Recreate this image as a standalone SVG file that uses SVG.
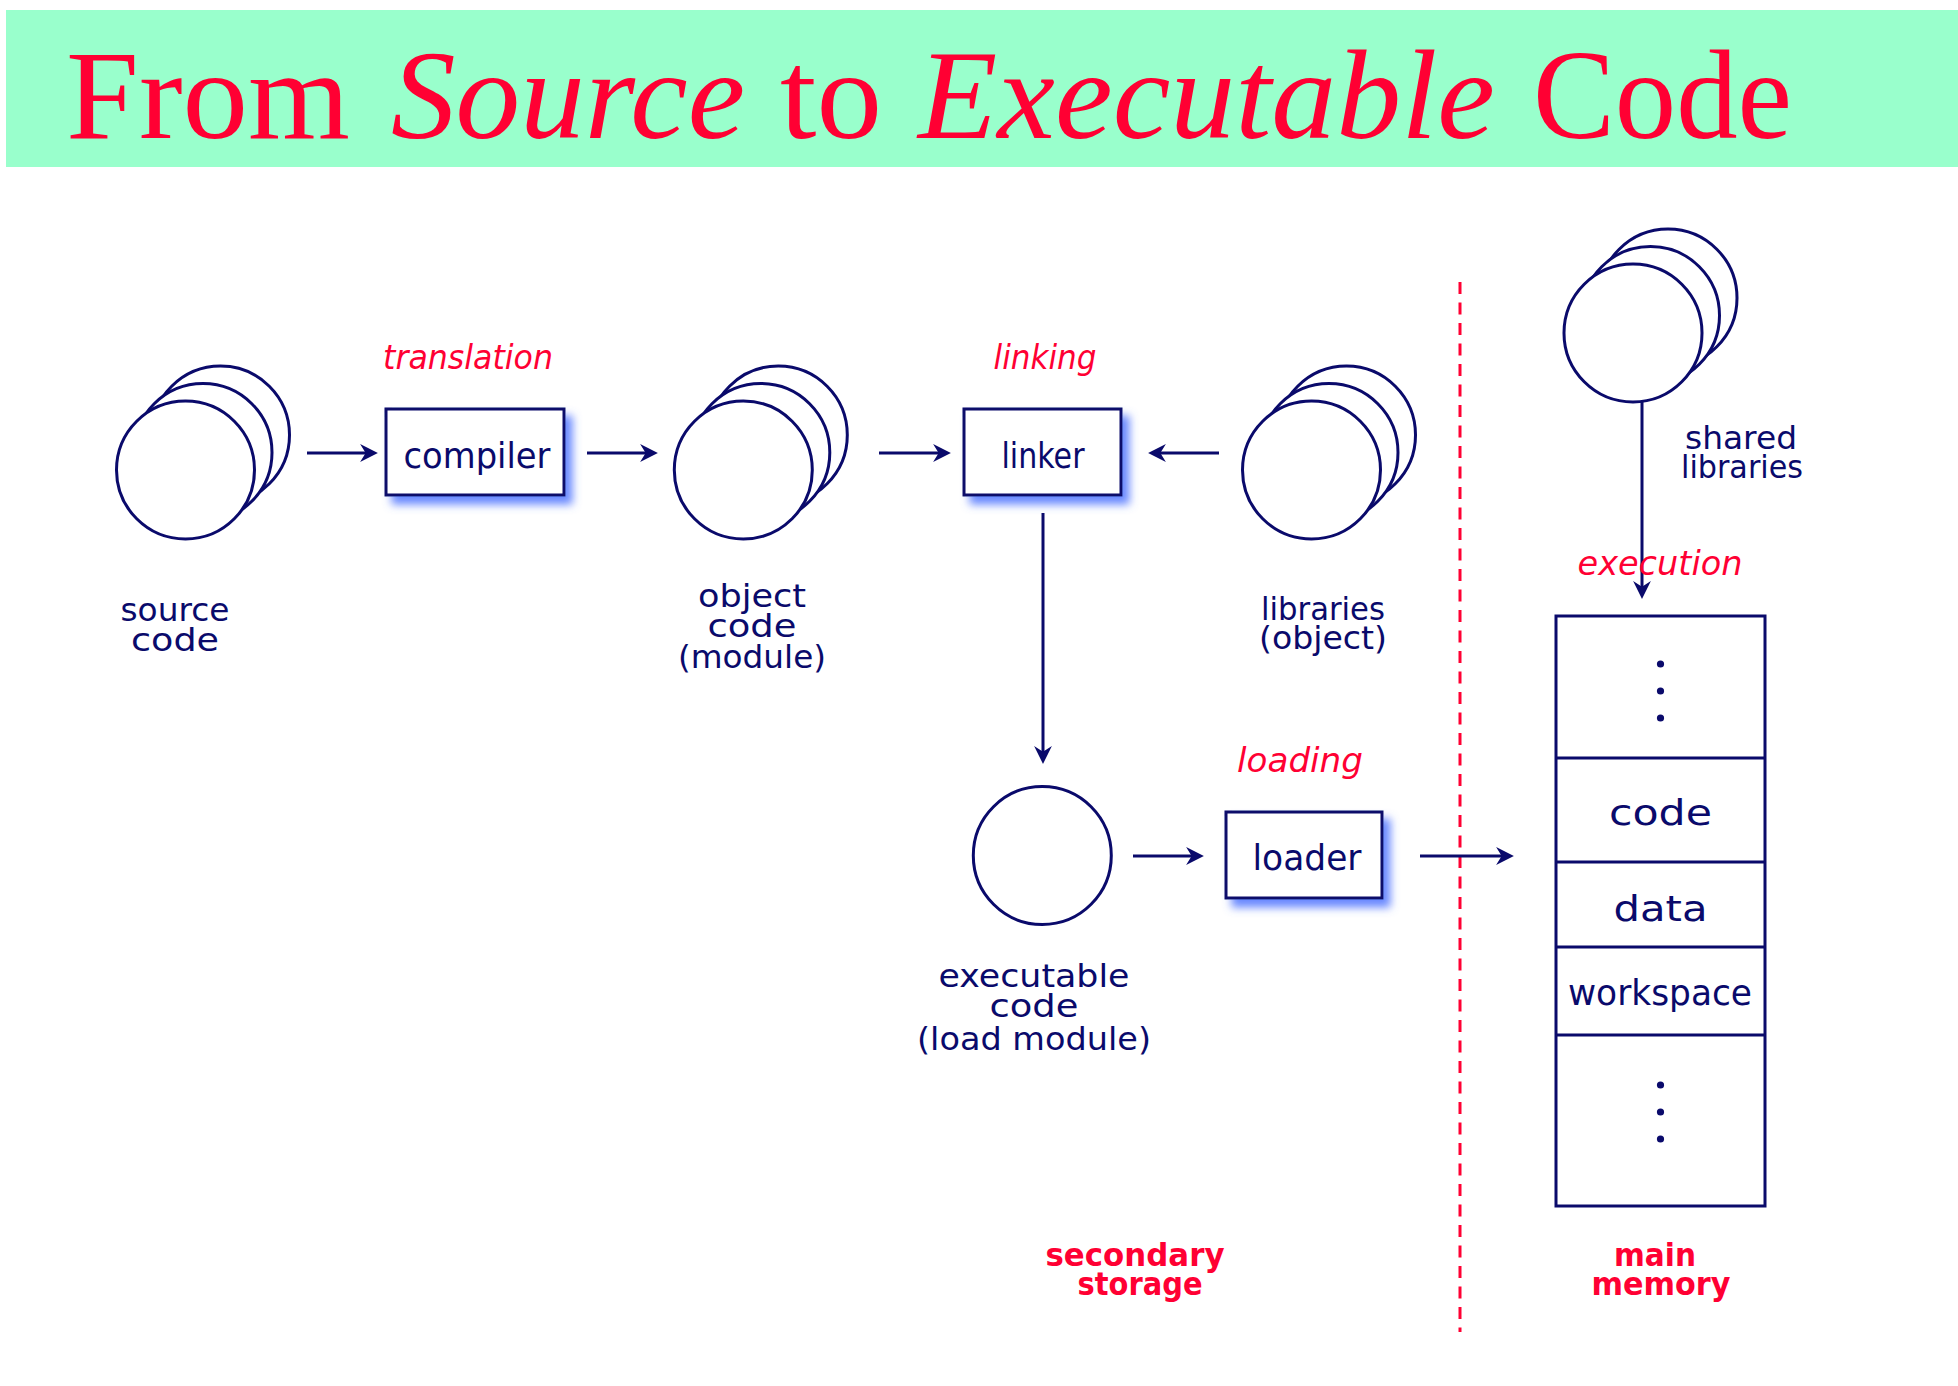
<svg xmlns="http://www.w3.org/2000/svg" xmlns:xlink="http://www.w3.org/1999/xlink" width="1958" height="1386" viewBox="0 0 1958 1386">
  <style>
    .ln { stroke: #0a0a6b; stroke-width: 3; fill: none; }
    .shape { stroke: #0a0a6b; stroke-width: 3; fill: #ffffff; }
    .lbl { font-family: "DejaVu Sans", "Liberation Sans", sans-serif; font-size: 32px; fill: #0a0a6b; text-anchor: middle; }
    .box { font-family: "DejaVu Sans", "Liberation Sans", sans-serif; font-size: 35px; fill: #0a0a6b; text-anchor: middle; }
    .act { font-family: "DejaVu Sans", "Liberation Sans", sans-serif; font-style: oblique; font-size: 33px; fill: #ff0033; text-anchor: middle; }
    .zone { font-family: "DejaVu Sans", "Liberation Sans", sans-serif; font-weight: bold; font-size: 32px; fill: #ff0033; text-anchor: middle; }
    .title { font-family: "Liberation Serif", "Times New Roman", serif; font-size: 128px; fill: #ff0033; }
    .it { font-style: italic; }
  </style>
  <defs>
    <marker id="head" markerUnits="userSpaceOnUse" markerWidth="20" markerHeight="20" viewBox="0 0 18 18" refX="9" refY="9" orient="auto">
      <path d="M1,1 L17,9 L1,17 L6,9 Z" fill="#0a0a6b"/>
    </marker>
    <filter id="glow" x="-20%" y="-20%" width="150%" height="160%">
      <feGaussianBlur in="SourceAlpha" stdDeviation="4"/>
      <feOffset dx="7" dy="8" result="b"/>
      <feFlood flood-color="#4f74ff" flood-opacity="0.85"/>
      <feComposite in2="b" operator="in" result="s"/>
      <feMerge>
        <feMergeNode in="s"/>
        <feMergeNode in="SourceGraphic"/>
      </feMerge>
    </filter>
    <g id="stack">
      <circle class="shape" cx="35" cy="-35" r="69"/>
      <circle class="shape" cx="17.5" cy="-17.5" r="69"/>
      <circle class="shape" cx="0" cy="0" r="69"/>
    </g>
  </defs>

  <!-- title band -->
  <rect x="6" y="10" width="1952" height="157" fill="#99ffcc"/>
  <text class="title" x="66" y="138" textLength="284" lengthAdjust="spacingAndGlyphs">From</text>
  <text class="title it" x="391" y="138" textLength="354" lengthAdjust="spacingAndGlyphs">Source</text>
  <text class="title" x="780" y="138" textLength="102" lengthAdjust="spacingAndGlyphs">to</text>
  <text class="title it" x="918" y="138" textLength="577" lengthAdjust="spacingAndGlyphs">Executable</text>
  <text class="title" x="1533" y="138" textLength="259" lengthAdjust="spacingAndGlyphs">Code</text>

  <!-- storage boundary -->
  <line x1="1460" y1="282" x2="1460" y2="1332" stroke="#ff0033" stroke-width="3" stroke-dasharray="12 8.5"/>

  <!-- connectors -->
  <g id="connectors">
    <line class="ln" x1="307" y1="453" x2="369" y2="453" marker-end="url(#head)"/>
    <line class="ln" x1="587" y1="453" x2="649" y2="453" marker-end="url(#head)"/>
    <line class="ln" x1="879" y1="453" x2="942" y2="453" marker-end="url(#head)"/>
    <line class="ln" x1="1219" y1="453" x2="1157" y2="453" marker-end="url(#head)"/>
    <line class="ln" x1="1043" y1="513" x2="1043" y2="755" marker-end="url(#head)"/>
    <line class="ln" x1="1133" y1="856" x2="1195" y2="856" marker-end="url(#head)"/>
    <line class="ln" x1="1420" y1="856" x2="1505" y2="856" marker-end="url(#head)"/>
    <line class="ln" x1="1642" y1="401" x2="1642" y2="590" marker-end="url(#head)"/>
  </g>

  <!-- activity labels -->
  <text class="act" x="468" y="369" textLength="170" lengthAdjust="spacingAndGlyphs">translation</text>
  <text class="act" x="1045" y="369" textLength="103" lengthAdjust="spacingAndGlyphs">linking</text>
  <text class="act" x="1300" y="772" textLength="126" lengthAdjust="spacingAndGlyphs">loading</text>
  <text class="act" x="1660" y="575" textLength="165" lengthAdjust="spacingAndGlyphs">execution</text>

  <g id="source-code">
    <use xlink:href="#stack" x="185.5" y="470"/>
    <text class="lbl" x="175" y="621" textLength="109" lengthAdjust="spacingAndGlyphs">source</text>
    <text class="lbl" x="175" y="651" textLength="88" lengthAdjust="spacingAndGlyphs">code</text>
  </g>

  <g id="compiler">
    <rect class="shape" x="386" y="409" width="178" height="86" filter="url(#glow)"/>
    <text class="box" x="477" y="468" textLength="147" lengthAdjust="spacingAndGlyphs">compiler</text>
  </g>

  <g id="object-code">
    <use xlink:href="#stack" x="743.3" y="470"/>
    <text class="lbl" x="752" y="607" textLength="108" lengthAdjust="spacingAndGlyphs">object</text>
    <text class="lbl" x="752" y="637" textLength="89" lengthAdjust="spacingAndGlyphs">code</text>
    <text class="lbl" x="752" y="668" textLength="148" lengthAdjust="spacingAndGlyphs">(module)</text>
  </g>

  <g id="linker">
    <rect class="shape" x="964" y="409" width="157" height="86" filter="url(#glow)"/>
    <text class="box" x="1043" y="468" textLength="83" lengthAdjust="spacingAndGlyphs">linker</text>
  </g>

  <g id="libraries">
    <use xlink:href="#stack" x="1311.5" y="470"/>
    <text class="lbl" x="1323" y="620" textLength="124" lengthAdjust="spacingAndGlyphs">libraries</text>
    <text class="lbl" x="1323" y="649" textLength="128" lengthAdjust="spacingAndGlyphs">(object)</text>
  </g>

  <g id="shared-libraries">
    <use xlink:href="#stack" x="1633" y="333"/>
    <text class="lbl" x="1741" y="449" textLength="112" lengthAdjust="spacingAndGlyphs">shared</text>
    <text class="lbl" x="1742" y="478" textLength="122" lengthAdjust="spacingAndGlyphs">libraries</text>
  </g>

  <g id="executable-code">
    <circle class="shape" cx="1042.3" cy="855.5" r="69"/>
    <text class="lbl" x="1034" y="987" textLength="191" lengthAdjust="spacingAndGlyphs">executable</text>
    <text class="lbl" x="1034" y="1017" textLength="89" lengthAdjust="spacingAndGlyphs">code</text>
    <text class="lbl" x="1034" y="1050" textLength="234" lengthAdjust="spacingAndGlyphs">(load module)</text>
  </g>

  <g id="loader">
    <rect class="shape" x="1226" y="812" width="156" height="86" filter="url(#glow)"/>
    <text class="box" x="1307" y="870" textLength="109" lengthAdjust="spacingAndGlyphs">loader</text>
  </g>

  <g id="main-memory">
    <rect class="shape" x="1556" y="616" width="209" height="590"/>
    <line class="ln" x1="1556" y1="758" x2="1765" y2="758"/>
    <line class="ln" x1="1556" y1="862" x2="1765" y2="862"/>
    <line class="ln" x1="1556" y1="947" x2="1765" y2="947"/>
    <line class="ln" x1="1556" y1="1035" x2="1765" y2="1035"/>
    <g fill="#0a0a6b">
      <circle cx="1660.5" cy="664" r="3.6"/>
      <circle cx="1660.5" cy="691" r="3.6"/>
      <circle cx="1660.5" cy="718" r="3.6"/>
      <circle cx="1660.5" cy="1085" r="3.6"/>
      <circle cx="1660.5" cy="1112" r="3.6"/>
      <circle cx="1660.5" cy="1139" r="3.6"/>
    </g>
    <text class="box" x="1660.5" y="825" font-size="42" textLength="103" lengthAdjust="spacingAndGlyphs">code</text>
    <text class="box" x="1660.5" y="921" font-size="42" textLength="94" lengthAdjust="spacingAndGlyphs">data</text>
    <text class="box" x="1660" y="1005" font-size="36" textLength="184" lengthAdjust="spacingAndGlyphs">workspace</text>
  </g>

  <!-- storage zone captions -->
  <text class="zone" x="1135" y="1266" textLength="179" lengthAdjust="spacingAndGlyphs">secondary</text>
  <text class="zone" x="1140" y="1295" textLength="125" lengthAdjust="spacingAndGlyphs">storage</text>
  <text class="zone" x="1655" y="1266" textLength="82" lengthAdjust="spacingAndGlyphs">main</text>
  <text class="zone" x="1661" y="1295" textLength="139" lengthAdjust="spacingAndGlyphs">memory</text>
</svg>
